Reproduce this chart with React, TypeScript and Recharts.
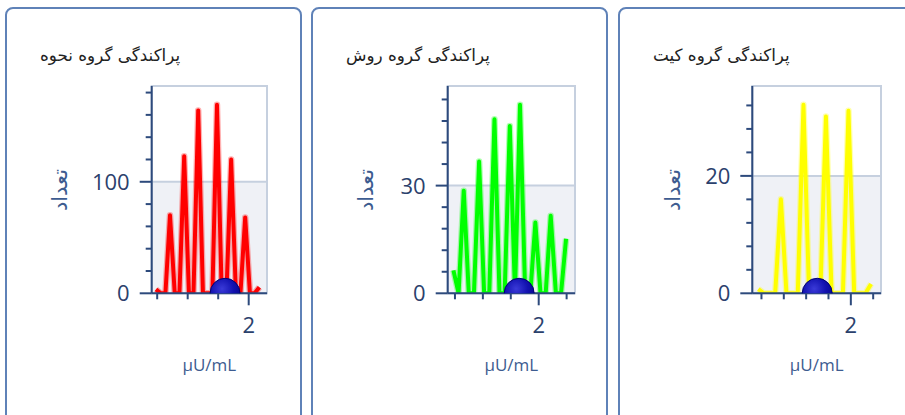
import React from 'react';
import {
  LineChart,
  Line,
  XAxis,
  YAxis,
  ReferenceArea,
  ReferenceLine,
  ReferenceDot,
} from 'recharts';

const NUM_FONT = '"Open Sans", "DejaVu Sans", sans-serif';
const FA_FONT = '"DejaVu Sans", "Noto Sans", sans-serif';
const AXIS = '#2d4a7c';
const TICK_TEXT = '#2b416d';
const LABEL_TEXT = '#3d5c90';
const FRAME = '#c6d0df';
const BAND = '#eff1f6';
const BORDER = '#5f82b8';

// پراکندگی گروه نحوه (red)
const nahveX = [
  1.392, 1.423, 1.454, 1.484, 1.515, 1.546, 1.577, 1.608, 1.638, 1.669, 1.7, 1.731,
  1.762, 1.792, 1.823, 1.854, 1.885, 1.916, 1.946, 1.977, 2.008, 2.039, 2.07,
];
const nahveY = [3.5, 0, 0, 70, 0, 0, 123, 0, 0, 164, 0, 0, 0, 169, 0, 0, 120, 0, 0, 68, 0, 0, 5.5];
const nahveTicksX = [1.4, 1.6, 1.8, 2];
const nahveTicksY = [0, 20, 40, 60, 80, 100, 120, 140, 160, 180];
const nahveMarker = 1.845;

// پراکندگی گروه روش (green)
const raveshX = [
  1.389, 1.426, 1.463, 1.499, 1.536, 1.573, 1.609, 1.646, 1.683, 1.719, 1.756, 1.793,
  1.83, 1.866, 1.903, 1.94, 1.976, 2.013, 2.05, 2.086, 2.123, 2.16, 2.196,
];
const raveshY = [6.4, 0, 28.6, 0, 0, 36.7, 0, 0, 48.5, 0, 0, 46.6, 0, 52.5, 0, 0, 19.7, 0, 0, 21.6, 0, 0, 15.2];
const raveshTicksX = [1.4, 1.6, 1.8, 2, 2.2];
const raveshTicksY = [0, 6, 12, 18, 24, 30, 36, 42, 48, 54];
const raveshMarker = 1.86;

// پراکندگی گروه کیت (yellow)
const kitX = [
  1.172, 1.222, 1.273, 1.323, 1.374, 1.424, 1.475, 1.525, 1.576, 1.626, 1.676,
  1.727, 1.777, 1.828, 1.878, 1.929, 1.979, 2.03, 2.08, 2.131, 2.181,
];
const kitY = [0.7, 0, 0, 0, 16, 0, 0, 0, 32.1, 0, 0, 0, 30.1, 0, 0, 0, 31.1, 0, 0, 0, 1.6];
const kitTicksX = [1.2, 1.4, 1.6, 1.8, 2, 2.2];
const kitTicksY = [0, 4, 8, 12, 16, 20, 24, 28, 32];
const kitMarker = 1.699;

const PANELS = [
  {
    id: 'nahve',
    title: 'پراکندگی گروه نحوه',
    left: 5,
    xs: nahveX,
    ys: nahveY,
    ticksX: nahveTicksX,
    ticksY: nahveTicksY,
    majorY: 100,
    marker: nahveMarker,
    color: '#ff0000',
    xDomain: [1.364, 2.12],
    plotLeft: 144.7,
    plotRight: 260,
  },
  {
    id: 'ravesh',
    title: 'پراکندگی گروه روش',
    left: 311,
    xs: raveshX,
    ys: raveshY,
    ticksX: raveshTicksX,
    ticksY: raveshTicksY,
    majorY: 30,
    marker: raveshMarker,
    color: '#00ff00',
    xDomain: [1.348, 2.26],
    plotLeft: 134.7,
    plotRight: 262,
  },
  {
    id: 'kit',
    title: 'پراکندگی گروه کیت',
    left: 618,
    xs: kitX,
    ys: kitY,
    ticksX: kitTicksX,
    ticksY: kitTicksY,
    majorY: 20,
    marker: kitMarker,
    color: '#ffff00',
    xDomain: [1.118, 2.27],
    plotLeft: 132.3,
    plotRight: 261,
  },
];

const CHART_W = 293;
const CHART_H = 360;
const PLOT_TOP = 77;
const PLOT_BOTTOM = 284.3;
const X_AXIS_H = 60;

function YTick({ x, y, payload, majors }: any) {
  const major = majors.includes(payload.value);
  return (
    <g>
      <line x1={x - (major ? 12 : 6)} x2={x} y1={y} y2={y} stroke={AXIS} strokeWidth={2} />
      {major && (
        <text
          x={x - 22}
          y={y}
          dy="0.36em"
          textAnchor="end"
          fontSize={22}
          fontFamily={NUM_FONT}
          fill={TICK_TEXT}
        >
          {payload.value}
        </text>
      )}
    </g>
  );
}

function XTick({ x, y, payload }: any) {
  const major = payload.value === 2;
  return (
    <g>
      <line x1={x} x2={x} y1={y} y2={y + (major ? 12 : 6)} stroke={AXIS} strokeWidth={2} />
      {major && (
        <text x={x} y={y + 40} textAnchor="middle" fontSize={22} fontFamily={NUM_FONT} fill={TICK_TEXT}>
          {payload.value}
        </text>
      )}
    </g>
  );
}

function Panel({ p }: { p: (typeof PANELS)[number] }) {
  const data = p.xs.map((x, i) => ({ x, y: p.ys[i] }));
  const yMax = Math.max(...p.ys) * 1.1;
  const gradId = `ball-${p.id}`;
  return (
    <div
      style={{
        position: 'absolute',
        left: p.left,
        top: 7,
        width: 297,
        height: 440,
        border: `2px solid ${BORDER}`,
        borderRadius: 8,
        boxSizing: 'border-box',
        background: '#fff',
      }}
    >
      <div
        style={{
          position: 'absolute',
          left: 33,
          top: 35,
          lineHeight: '22px',
          fontSize: 16.8,
          fontFamily: FA_FONT,
          color: '#222',
          direction: 'rtl',
          whiteSpace: 'nowrap',
        }}
      >
        {p.title}
      </div>
      <div style={{ position: 'absolute', left: 0, top: 0 }}>
        <LineChart
          width={CHART_W}
          height={CHART_H}
          data={data}
          margin={{
            top: PLOT_TOP,
            right: CHART_W - p.plotRight,
            bottom: CHART_H - PLOT_BOTTOM - X_AXIS_H,
            left: 0,
          }}
        >
          <defs>
            <radialGradient id={gradId} cx="40%" cy="35%" r="70%">
              <stop offset="0%" stopColor="#3a3ad8" />
              <stop offset="55%" stopColor="#1212b0" />
              <stop offset="100%" stopColor="#05058a" />
            </radialGradient>
          </defs>
          <XAxis
            dataKey="x"
            type="number"
            domain={p.xDomain}
            allowDataOverflow
            ticks={p.ticksX}
            interval={0}
            height={X_AXIS_H}
            tickSize={0}
            tickMargin={0}
            tickLine={false}
            axisLine={{ stroke: AXIS, strokeWidth: 2 }}
            tick={(props: any) => <XTick {...props} />}
          />
          <YAxis
            type="number"
            domain={[0, yMax]}
            allowDataOverflow
            ticks={p.ticksY}
            interval={0}
            width={p.plotLeft}
            tickSize={0}
            tickMargin={0}
            tickLine={false}
            axisLine={{ stroke: AXIS, strokeWidth: 2 }}
            tick={(props: any) => <YTick {...props} majors={[0, p.majorY]} />}
          />
          <ReferenceArea
            x1={p.xDomain[0]}
            x2={p.xDomain[1]}
            y1={0}
            y2={p.majorY}
            fill={BAND}
            fillOpacity={1}
            stroke="none"
          />
          <ReferenceArea
            x1={p.xDomain[0]}
            x2={p.xDomain[1]}
            y1={0}
            y2={yMax}
            fill="none"
            stroke={FRAME}
            strokeWidth={2}
          />
          <ReferenceLine y={p.majorY} stroke={FRAME} strokeWidth={2} />
          <Line
            dataKey="y"
            type="linear"
            stroke={p.color}
            strokeOpacity={0.3}
            strokeWidth={6.5}
            strokeLinejoin="round"
            dot={false}
            activeDot={false}
            isAnimationActive={false}
          />
          <Line
            dataKey="y"
            type="linear"
            stroke={p.color}
            strokeWidth={4}
            strokeLinejoin="round"
            dot={false}
            activeDot={false}
            isAnimationActive={false}
          />
          <ReferenceDot
            x={p.marker}
            y={0}
            r={15}
            fill={`url(#${gradId})`}
            stroke="#000070"
            strokeWidth={1}
            ifOverflow="hidden"
          />
        </LineChart>
      </div>
      <div
        style={{
          position: 'absolute',
          left: 53,
          top: (PLOT_TOP + PLOT_BOTTOM) / 2,
          transform: 'translate(-50%, -50%) rotate(-90deg)',
          fontSize: 21,
          fontFamily: FA_FONT,
          color: LABEL_TEXT,
          whiteSpace: 'nowrap',
          lineHeight: '24px',
        }}
      >
        تعداد
      </div>
      <div
        style={{
          position: 'absolute',
          left: (p.plotLeft + p.plotRight) / 2,
          top: 356,
          transform: 'translate(-50%, -50%)',
          fontSize: 17,
          fontFamily: NUM_FONT,
          color: LABEL_TEXT,
          whiteSpace: 'nowrap',
          lineHeight: '20px',
        }}
      >
        µU/mL
      </div>
    </div>
  );
}

export default function App() {
  return (
    <div
      style={{
        position: 'absolute',
        left: 0,
        top: 0,
        width: 905,
        height: 415,
        overflow: 'hidden',
        background: '#fff',
      }}
    >
      {PANELS.map((p) => (
        <Panel key={p.id} p={p} />
      ))}
    </div>
  );
}
